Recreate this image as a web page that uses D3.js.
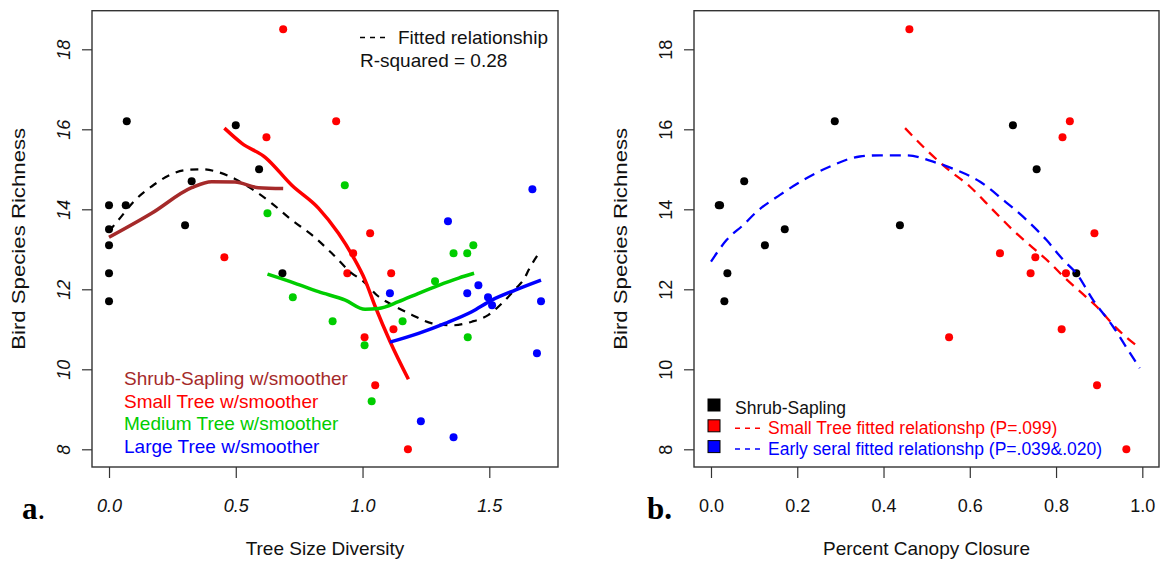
<!DOCTYPE html>
<html>
<head>
<meta charset="utf-8">
<script src="https://cdn.jsdelivr.net/npm/d3@7"></script>
<style>
	body { margin: 0; background: #fff; }
	text { font-family: 'Liberation Sans', Arial, sans-serif; }
</style>
</head>
<body>
<div id="chart"></div>
<script>
// panel a: tree size diversity vs richness, [x, y]
const shrubA = [[0, 14.1], [0.066, 14.1], [0.07, 16.2], [0, 13.5], [0, 13.1], [0.30, 13.6],
	[0.326, 14.7], [0.50, 16.1], [0.592, 15.0], [0, 12.4], [0.684, 12.4], [0, 11.7]];
const smallA = [[0.687, 18.5], [0.896, 16.2], [0.621, 15.8], [1.03, 13.4], [0.455, 12.8], [0.963, 12.9],
	[0.94, 12.4], [1.113, 12.4], [1.008, 10.8], [1.122, 11.0], [1.05, 9.6], [1.179, 8.0]];
const mediumA = [[0.93, 14.6], [0.625, 13.9], [1.359, 12.9], [1.413, 12.9], [1.437, 13.1], [1.286, 12.2],
	[0.725, 11.8], [0.882, 11.2], [1.158, 11.2], [1.008, 10.6], [1.415, 10.8], [1.036, 9.2]];
const largeA = [[1.67, 14.5], [1.337, 13.7], [1.108, 11.9], [1.457, 12.1], [1.413, 11.9], [1.495, 11.8],
	[1.511, 11.6], [1.704, 11.7], [1.688, 10.4], [1.23, 8.7], [1.359, 8.3]];

const shrubSmooth = [[0, 13.3], [0.168, 13.9], [0.326, 14.54], [0.405, 14.69], [0.497, 14.68], [0.589, 14.54], [0.687, 14.52]];
const smallSmooth = [[0.455, 16.03], [0.524, 15.65], [0.616, 15.3], [0.721, 14.6], [0.826, 14.03], [0.905, 13.4],
	[0.964, 12.8], [1.01, 12.23], [1.05, 11.57], [1.109, 10.69], [1.181, 9.75]];
const mediumSmooth = [[0.625, 12.38], [0.734, 12.15], [0.826, 11.94], [0.932, 11.73], [1.01, 11.5], [1.063, 11.52],
	[1.142, 11.69], [1.221, 11.9], [1.3, 12.1], [1.379, 12.28], [1.44, 12.4]];
const largeSmooth = [[1.108, 10.68], [1.221, 10.9], [1.326, 11.15], [1.431, 11.44], [1.51, 11.73], [1.602, 11.98], [1.704, 12.23]];
const fittedA = [[0, 13.45], [0.037, 13.73], [0.103, 14.23], [0.168, 14.57], [0.234, 14.84], [0.30, 14.98], [0.366, 15.0],
	[0.431, 14.93], [0.497, 14.76], [0.563, 14.51], [0.642, 14.15], [0.721, 13.73], [0.80, 13.36], [0.879, 12.9],
	[0.958, 12.4], [0.997, 12.23], [1.063, 11.82], [1.129, 11.57], [1.195, 11.36], [1.274, 11.15], [1.353, 11.1],
	[1.431, 11.19], [1.497, 11.36], [1.55, 11.65], [1.602, 12.0], [1.641, 12.3], [1.655, 12.48], [1.7, 12.94]];

// panel b: canopy closure vs richness
const shrubB = [[0.018, 14.1], [0.021, 14.1], [0.038, 12.4], [0.031, 11.7], [0.077, 14.7], [0.125, 13.1], [0.171, 13.5],
	[0.287, 16.2], [0.438, 13.6], [0.70, 16.1], [0.755, 15.0], [0.847, 12.4]];
const smallB = [[0.46, 18.5], [0.832, 16.2], [0.815, 15.8], [0.889, 13.4], [0.67, 12.9], [0.752, 12.8],
	[0.741, 12.4], [0.823, 12.4], [0.552, 10.8], [0.813, 11.0], [0.895, 9.6], [0.963, 8.0]];
const smallFitB = [[0.45, 16.03], [0.5, 15.48], [0.546, 15.03], [0.6, 14.57], [0.654, 13.98], [0.70, 13.48],
	[0.747, 13.03], [0.787, 12.65], [0.817, 12.32], [0.856, 11.94], [0.894, 11.57], [0.94, 11.03], [0.994, 10.53]];
const earlyFitB = [[0, 12.69], [0.036, 13.23], [0.075, 13.61], [0.106, 13.94], [0.16, 14.36], [0.214, 14.73],
	[0.276, 15.07], [0.345, 15.32], [0.392, 15.35], [0.453, 15.35], [0.515, 15.19], [0.569, 14.98], [0.624, 14.69],
	[0.678, 14.23], [0.732, 13.73], [0.778, 13.23], [0.817, 12.73], [0.847, 12.4], [0.886, 11.73], [0.932, 11.07],
	[0.967, 10.48], [0.994, 10.03]];

const yTicks = [8, 10, 12, 14, 16, 18];
const xTicksA = [0, 0.5, 1.0, 1.5];
const xTicksB = [0, 0.2, 0.4, 0.6, 0.8, 1.0];

const legendA = [
	{ label: 'Shrub-Sapling w/smoother', color: '#a52a2a' },
	{ label: 'Small Tree w/smoother', color: '#ff0000' },
	{ label: 'Medium Tree w/smoother', color: '#00cd00' },
	{ label: 'Large Tree w/smoother', color: '#0000ff' }
];
const legendB = [
	{ label: 'Shrub-Sapling', color: '#000000', dash: false },
	{ label: 'Small Tree fitted relationshp (P=.099)', color: '#ff0000', dash: true },
	{ label: 'Early seral fitted relationshp (P=.039&.020)', color: '#0000ff', dash: true }
];

const W = 1166, H = 563;
const PANEL_TOP = 10.7, PANEL_BOTTOM = 467;

const svg = d3.select('#chart').append('svg')
	.attr('width', W)
	.attr('height', H);

const yScale = d3.scaleLinear().domain([7.5575, 18.965]).range([PANEL_BOTTOM, PANEL_TOP]);

const drawPanel = function(conf) {
	const x = d3.scaleLinear().domain(conf.domain).range([conf.left, conf.right]);
	const g = svg.append('g');
	const italic = conf.italic ? 'italic' : 'normal';

	// y axis
	const axisY = d3.axisLeft(yScale).tickValues(yTicks).tickSize(10).tickSizeOuter(0).tickFormat(d3.format('d'));
	const gy = g.append('g')
		.attr('transform', `translate(${conf.left},0)`)
		.call(axisY);
	gy.select('.domain').remove();
	gy.selectAll('line').attr('stroke', '#333').attr('stroke-width', 1.2);
	gy.selectAll('text')
		.attr('transform', 'rotate(-90)')
		.attr('x', 0)
		.attr('y', -28.5)
		.attr('dy', '0.36em')
		.attr('text-anchor', 'middle')
		.style('font-size', '18px')
		.style('font-style', italic)
		.style('font-family', "'Liberation Sans', Arial, sans-serif")
		.attr('fill', '#111');

	// x axis
	const axisX = d3.axisBottom(x).tickValues(conf.ticks).tickSize(11).tickSizeOuter(0).tickFormat(conf.format);
	const gx = g.append('g')
		.attr('transform', `translate(0,${PANEL_BOTTOM})`)
		.call(axisX);
	gx.select('.domain').remove();
	gx.selectAll('line').attr('stroke', '#333').attr('stroke-width', 1.2);
	gx.selectAll('text')
		.attr('y', 45)
		.attr('dy', null)
		.style('font-size', '18px')
		.style('font-style', italic)
		.style('font-family', "'Liberation Sans', Arial, sans-serif")
		.attr('fill', '#111');

	// box
	g.append('rect')
		.attr('x', conf.left)
		.attr('y', PANEL_TOP)
		.attr('width', conf.right - conf.left)
		.attr('height', PANEL_BOTTOM - PANEL_TOP)
		.attr('fill', 'none')
		.attr('stroke', '#333')
		.attr('stroke-width', 1.4);

	// axis titles
	g.append('text')
		.attr('transform', `translate(${conf.left - 67},${(PANEL_TOP + PANEL_BOTTOM) / 2}) rotate(-90)`)
		.attr('text-anchor', 'middle')
		.attr('textLength', 222)
		.attr('lengthAdjust', 'spacingAndGlyphs')
		.style('font-size', '19px')
		.attr('fill', '#111')
		.text('Bird Species Richness');

	g.append('text')
		.attr('x', (conf.left + conf.right) / 2)
		.attr('y', 555)
		.attr('text-anchor', 'middle')
		.style('font-size', '19px')
		.attr('fill', '#111')
		.text(conf.xTitle);

	// panel letter
	const letter = g.append('text')
		.attr('x', conf.letterX)
		.attr('y', 519)
		.style('font-family', "'Liberation Serif', 'Times New Roman', serif")
		.style('font-size', '31px')
		.attr('fill', '#000');
	letter.append('tspan').style('font-weight', 'bold').text(conf.letter);
	letter.append('tspan').style('font-weight', conf.letter === 'a' ? 'normal' : 'bold').text('.');

	return { g, x };
};

const addPoints = function(g, x, data, color) {
	g.append('g').selectAll('circle')
		.data(data)
		.join('circle')
		.attr('cx', d => x(d[0]))
		.attr('cy', d => yScale(d[1]))
		.attr('r', 4)
		.attr('fill', color);
};

const addLine = function(g, x, data, color, width, dash) {
	const line = d3.line()
		.x(d => x(d[0]))
		.y(d => yScale(d[1]))
		.curve(d3.curveMonotoneX);
	g.append('path')
		.datum(data)
		.attr('d', line)
		.attr('fill', 'none')
		.attr('stroke', color)
		.attr('stroke-width', width)
		.attr('stroke-linejoin', 'round')
		.attr('stroke-dasharray', dash || null);
};

// ---- panel a
const pa = drawPanel({
	left: 92, right: 558, domain: [-0.0671, 1.771], ticks: xTicksA,
	format: d3.format('.1f'), italic: true, xTitle: 'Tree Size Diversity', letter: 'a', letterX: 22
});
addPoints(pa.g, pa.x, shrubA, '#000');
addPoints(pa.g, pa.x, smallA, '#ff0000');
addPoints(pa.g, pa.x, mediumA, '#00cd00');
addPoints(pa.g, pa.x, largeA, '#0000ff');
addLine(pa.g, pa.x, fittedA, '#000', 2.2, '8,7');
addLine(pa.g, pa.x, shrubSmooth, '#a52a2a', 3.5);
addLine(pa.g, pa.x, smallSmooth, '#ff0000', 3.5);
addLine(pa.g, pa.x, mediumSmooth, '#00cd00', 3.5);
addLine(pa.g, pa.x, largeSmooth, '#0000ff', 3.5);

// fitted legend (top right)
pa.g.append('line')
	.attr('x1', 360).attr('x2', 387)
	.attr('y1', 37.5).attr('y2', 37.5)
	.attr('stroke', '#000')
	.attr('stroke-width', 1.5)
	.attr('stroke-dasharray', '5,5');
pa.g.append('text')
	.attr('x', 398).attr('y', 44)
	.style('font-size', '19px')
	.attr('fill', '#111')
	.text('Fitted relationship');
pa.g.append('text')
	.attr('x', 360).attr('y', 67)
	.style('font-size', '19px')
	.attr('fill', '#111')
	.text('R-squared = 0.28');

pa.g.append('g').selectAll('text')
	.data(legendA)
	.join('text')
	.attr('x', 124)
	.attr('y', (d, i) => 385 + i * 22.5)
	.style('font-size', '19px')
	.attr('fill', d => d.color)
	.text(d => d.label);

// ---- panel b
const pb = drawPanel({
	left: 694, right: 1159, domain: [-0.0394, 1.0387], ticks: xTicksB,
	format: d3.format('.1f'), italic: false, xTitle: 'Percent Canopy Closure', letter: 'b', letterX: 647
});
addPoints(pb.g, pb.x, shrubB, '#000');
addPoints(pb.g, pb.x, smallB, '#ff0000');
addLine(pb.g, pb.x, smallFitB, '#ff0000', 2.3, '10,7');
addLine(pb.g, pb.x, earlyFitB, '#0000ff', 2.3, '11,7');

const legB = pb.g.append('g').selectAll('g')
	.data(legendB)
	.join('g')
	.attr('transform', (d, i) => `translate(0,${405 + i * 20.8})`);
legB.append('rect')
	.attr('x', 708).attr('y', -6)
	.attr('width', 12).attr('height', 12)
	.attr('fill', d => d.color)
	.attr('stroke', '#000')
	.attr('stroke-width', 1);
legB.filter(d => d.dash).append('line')
	.attr('x1', 735).attr('x2', 762)
	.attr('y1', 2.5).attr('y2', 2.5)
	.attr('stroke', d => d.color)
	.attr('stroke-width', 1.5)
	.attr('stroke-dasharray', '5,5');
legB.append('text')
	.attr('x', d => d.dash ? 768 : 735)
	.attr('y', 8.5)
	.style('font-size', '17.5px')
	.attr('fill', d => d.dash ? d.color : '#111')
	.text(d => d.label);
</script>
</body>
</html>
